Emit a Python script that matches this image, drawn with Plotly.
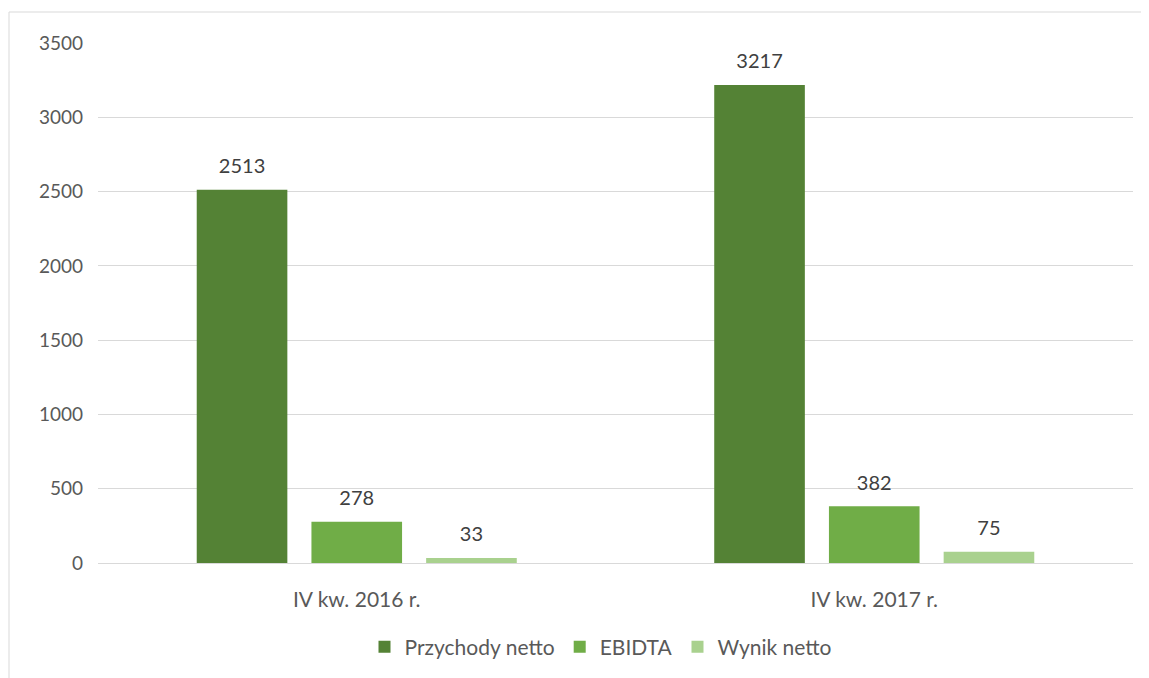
import plotly.graph_objects as go

categories = ["IV kw. 2016 r.", "IV kw. 2017 r."]
series_names = ["Przychody netto", "EBIDTA", "Wynik netto"]
przychody = [2513, 3217]
ebidta = [278, 382]
wynik = [33, 75]
colors = ["#548235", "#70AD47", "#A9D18E"]
y_ticks = [0, 500, 1000, 1500, 2000, 2500, 3000, 3500]

W, H = 1149, 678
OFF = 8  # page body offset
ml, mr, mt, mb = 98 - OFF, 24, 43 - OFF, 123
pw, ph = W - ml - mr, H - mt - mb

FONT = "Lato"

fig = go.Figure()
for name, vals, col in zip(series_names, [przychody, ebidta, wynik], colors):
    fig.add_trace(go.Bar(
        x=categories, y=vals, name=name, marker_color=col,
        marker_line_width=0,
        text=[str(v) for v in vals],
        texttemplate="<span style='font-size:20px'>%{text}</span><br> ",
        textposition="outside",
        textfont=dict(family=FONT, size=9, color="#404040"),
        cliponaxis=False,
    ))

def px_x(p):
    return (p - OFF - ml) / pw

def px_y(p):
    return (H - mb - (p - OFF)) / ph

fig.update_layout(
    width=W, height=H,
    margin=dict(l=ml, r=mr, t=mt, b=mb),
    paper_bgcolor="white", plot_bgcolor="white",
    barmode="group", bargap=0.335, bargroupgap=0.21,
    font=dict(family=FONT, size=19, color="#595959"),
    showlegend=True,
    legend=dict(orientation="h", x=px_x(601), xanchor="center", y=px_y(647), yanchor="middle",
                font=dict(family=FONT, size=21, color="#595959"),
                itemwidth=30, traceorder="normal"),
    xaxis=dict(showline=True, linecolor="#d9d9d9", linewidth=1, ticks="",
               ticklabelstandoff=18,
               tickfont=dict(family=FONT, size=21, color="#595959"), showgrid=False),
    yaxis=dict(range=[0, 3500], tickvals=y_ticks, showgrid=True, gridcolor="#d9d9d9",
               gridwidth=1, zeroline=False, ticks="", ticklabelstandoff=14,
               tickfont=dict(family=FONT, size=19, color="#595959")),
    shapes=[dict(type="rect", xref="paper", yref="paper",
                 x0=px_x(9), x1=px_x(1170), y0=px_y(700), y1=px_y(12),
                 line=dict(color="#d9d9d9", width=1), fillcolor="rgba(0,0,0,0)", layer="below")],
)

fig.write_html("out.html")
